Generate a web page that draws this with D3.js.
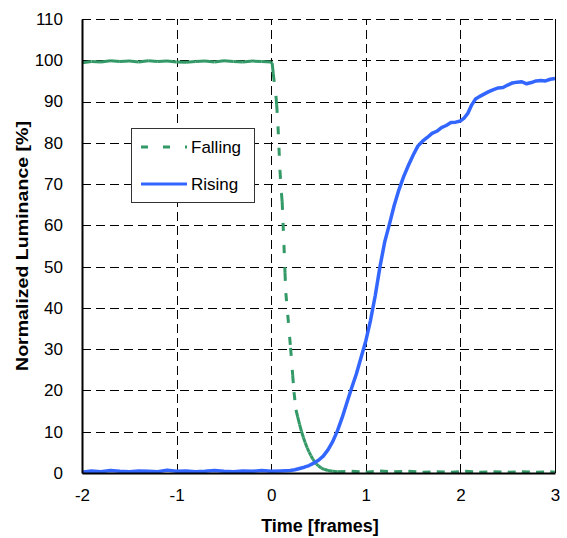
<!DOCTYPE html>
<html><head><meta charset="utf-8">
<script src="https://cdn.jsdelivr.net/npm/d3@7"></script>
<style>
body{margin:0;background:#fff;}
svg{display:block;font-family:"Liberation Sans",Arial,sans-serif;}
</style></head>
<body><svg id="c" width="567" height="538"></svg>
<script>
const xTicks = [-2,-1,0,1,2,3];
const yTicks = [0,10,20,30,40,50,60,70,80,90,100,110];
const seriesNames = ["Falling","Rising"];

const fallX = [-2.0,-1.9,-1.8,-1.7,-1.6,-1.5,-1.4,-1.3,-1.2,-1.1,-1.0,-0.9,-0.8,-0.7,-0.6,-0.5,-0.4,-0.3,-0.2,-0.1,0.0,
  0.010,0.022,0.050,0.058,0.072,0.082,0.093,0.108,0.116,0.125,0.135,0.146,0.155,0.175,0.205,0.227,0.241,0.262,
  0.28,0.30,0.32,0.34,0.36,0.38,0.40,0.42,0.44,0.46,0.48,0.50,0.53,0.56,0.60,0.65,0.70,
  0.85,1.0,1.15,1.3,1.45,1.6,1.75,1.9,2.05,2.2,2.35,2.5,2.65,2.8,2.95,3.0];
const fallY = [99.4,99.7,99.6,99.9,99.7,99.8,99.6,99.9,99.7,99.8,99.6,99.5,99.7,99.8,99.6,99.9,99.7,99.6,99.8,99.7,99.6,
  99.3,96.7,91.4,89.2,84.0,78.8,73.2,67.8,65.7,60.6,55.2,48.5,43.6,38.3,30.3,23.7,19.6,15.3,
  13.6,11.8,10.1,8.6,7.3,6.1,5.1,4.2,3.4,2.7,2.1,1.7,1.2,0.9,0.6,0.4,0.3,
  0.4,0.2,0.5,0.3,0.4,0.2,0.3,0.2,0.4,0.2,0.3,0.2,0.3,0.2,0.3,0.2];

const riseX = [-2.0,-1.9,-1.8,-1.7,-1.6,-1.5,-1.4,-1.3,-1.2,-1.1,-1.0,-0.9,-0.8,-0.7,-0.6,-0.5,-0.4,-0.3,-0.2,-0.1,0.0,0.1,0.2,
  0.25,0.30,0.35,0.40,0.45,0.50,0.55,0.60,0.65,0.70,0.75,0.80,0.85,0.90,0.95,1.00,1.05,1.10,1.15,1.20,1.25,1.30,1.35,1.40,
  1.45,1.50,1.55,1.60,1.65,1.70,1.75,1.80,1.85,1.90,1.95,2.00,2.04,2.08,2.12,2.16,2.20,2.25,2.30,2.35,2.40,2.45,2.50,
  2.55,2.60,2.65,2.70,2.75,2.80,2.85,2.90,2.95,3.00];
const riseY = [0.2,0.5,0.3,0.6,0.4,0.3,0.5,0.4,0.3,0.7,0.4,0.5,0.3,0.4,0.6,0.4,0.3,0.5,0.4,0.6,0.4,0.5,0.6,
  0.8,1.1,1.4,1.8,2.4,3.1,4.1,5.6,7.6,10.2,13.4,17.0,20.6,24.0,28.0,32.0,37.0,43.0,50.0,56.0,60.3,64.8,68.6,71.8,
  74.5,77.0,79.2,80.4,81.3,82.3,82.8,83.7,84.2,84.9,85.0,85.3,86.0,87.2,89.2,90.6,91.2,91.8,92.4,92.9,93.3,93.4,94.0,
  94.5,94.7,94.8,94.3,94.6,95.0,95.1,95.0,95.4,95.6];

const svg = d3.select("#c");
const L=82, R=555, T=19, B=473;
const x = d3.scaleLinear().domain([-2,3]).range([L,R]);
const y = d3.scaleLinear().domain([0,110]).range([B,T]);
const fmt = d => String(d);

// grid
const gy = svg.append("g").attr("transform",`translate(${L},0)`)
  .call(d3.axisLeft(y).tickValues(yTicks.filter(v=>v>0)).tickSize(-(R-L)).tickFormat(""));
gy.select(".domain").remove();
gy.selectAll("line").attr("stroke","#000").attr("stroke-width",1).attr("stroke-dasharray","9,5").attr("shape-rendering","crispEdges");
const gx = svg.append("g").attr("transform",`translate(0,${B})`)
  .call(d3.axisBottom(x).tickValues(xTicks.filter(v=>v>-2&&v<3)).tickSize(-(B-T)).tickFormat(""));
gx.select(".domain").remove();
gx.selectAll("line").attr("stroke","#000").attr("stroke-width",1).attr("stroke-dasharray","9,5").attr("shape-rendering","crispEdges");

// falling series, dash pattern restarting on each segment
const green = "#339966", blue = "#3366FF";
const gF = svg.append("g");
for (let i=0;i<fallX.length-1;i++){
  const x1=x(fallX[i]), y1=y(fallY[i]), x2=x(fallX[i+1]), y2=y(fallY[i+1]);
  const len=Math.hypot(x2-x1,y2-y1);
  gF.append("line").attr("x1",x1).attr("y1",y1).attr("x2",x2).attr("y2",y2)
    .attr("stroke",green).attr("stroke-width",3)
    .attr("stroke-dasharray", len<12 ? null : "8,14");
}
const line = d3.line().x(d=>x(d[0])).y(d=>y(d[1]));
svg.append("path").datum(riseX.map((v,i)=>[v,riseY[i]]))
  .attr("d",line).attr("fill","none").attr("stroke",blue).attr("stroke-width",3.5).attr("stroke-linejoin","round");

// axes lines
svg.append("line").attr("x1",R).attr("x2",R).attr("y1",T).attr("y2",B).attr("stroke","#000").attr("stroke-width",1).attr("shape-rendering","crispEdges");
const ax = svg.append("g").attr("transform",`translate(0,${B})`)
  .call(d3.axisBottom(x).tickValues(xTicks).tickSize(0).tickPadding(16).tickFormat(fmt));
ax.select(".domain").attr("stroke","#000").attr("stroke-width",2);
ax.selectAll("text").attr("font-size",17).attr("fill","#000").attr("font-family","Liberation Sans, Arial, sans-serif");
const ay = svg.append("g").attr("transform",`translate(${L},0)`)
  .call(d3.axisLeft(y).tickValues(yTicks).tickSize(0).tickPadding(19).tickFormat(fmt));
ay.select(".domain").attr("stroke","#000").attr("stroke-width",2);
ay.selectAll("text").attr("font-size",17).attr("fill","#000").attr("font-family","Liberation Sans, Arial, sans-serif");

// titles
svg.append("text").attr("x",320).attr("y",532).attr("text-anchor","middle")
  .attr("font-size",18).attr("font-weight","bold").text("Time [frames]");
svg.append("text").attr("transform",`translate(28,${(T+B)/2}) rotate(-90)`).attr("text-anchor","middle")
  .attr("font-size",17).attr("font-weight","bold").attr("textLength",250).attr("lengthAdjust","spacingAndGlyphs")
  .text("Normalized Luminance [%]");

// legend
const lg = svg.append("g");
lg.append("rect").attr("x",131.5).attr("y",128.5).attr("width",123).attr("height",74)
  .attr("fill","#fff").attr("stroke","#333").attr("stroke-width",1);
const lgY=[147,184];
lg.append("line").attr("x1",141).attr("x2",187).attr("y1",lgY[0]).attr("y2",lgY[0])
  .attr("stroke",green).attr("stroke-width",3).attr("stroke-dasharray","7,15");
lg.append("line").attr("x1",141).attr("x2",187).attr("y1",lgY[1]).attr("y2",lgY[1])
  .attr("stroke",blue).attr("stroke-width",3);
seriesNames.forEach((n,i)=>{
  lg.append("text").attr("x",191).attr("y",lgY[i]+6).attr("font-size",17).text(n);
});
</script></body></html>
